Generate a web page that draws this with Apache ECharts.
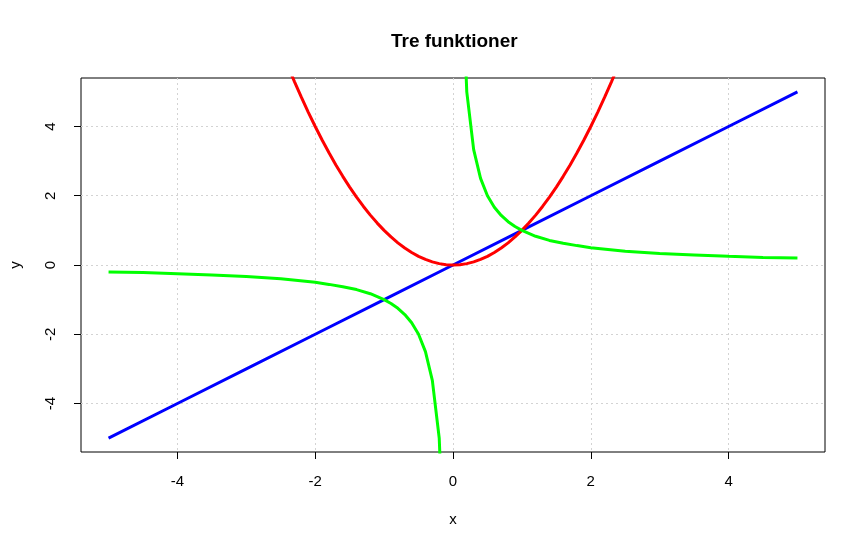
<!DOCTYPE html>
<html>
<head>
<meta charset="utf-8">
<script src="https://cdn.jsdelivr.net/npm/echarts@6/dist/echarts.min.js"></script>
<style>
  html, body { margin: 0; padding: 0; background: #fff; }
  #chart { width: 866px; height: 550px; }
</style>
</head>
<body>
<div id="chart"></div>
<script>
// y = x
const xBlue = [-5, -4, -3, -2, -1, 0, 1, 2, 3, 4, 5]
const yBlue = [-5, -4, -3, -2, -1, 0, 1, 2, 3, 4, 5]

// y = x^2 (visible part)
const xRed = [-2.5, -2.4, -2.3, -2.2, -2.1, -2.0, -1.9, -1.8, -1.7, -1.6, -1.5, -1.4, -1.3, -1.2, -1.1,
  -1.0, -0.9, -0.8, -0.7, -0.6, -0.5, -0.4, -0.3, -0.2, -0.1, 0,
  0.1, 0.2, 0.3, 0.4, 0.5, 0.6, 0.7, 0.8, 0.9, 1.0, 1.1, 1.2, 1.3, 1.4, 1.5, 1.6, 1.7, 1.8, 1.9,
  2.0, 2.1, 2.2, 2.3, 2.4, 2.5]
const yRed = [6.25, 5.76, 5.29, 4.84, 4.41, 4.0, 3.61, 3.24, 2.89, 2.56, 2.25, 1.96, 1.69, 1.44, 1.21,
  1.0, 0.81, 0.64, 0.49, 0.36, 0.25, 0.16, 0.09, 0.04, 0.01, 0,
  0.01, 0.04, 0.09, 0.16, 0.25, 0.36, 0.49, 0.64, 0.81, 1.0, 1.21, 1.44, 1.69, 1.96, 2.25, 2.56, 2.89, 3.24, 3.61,
  4.0, 4.41, 4.84, 5.29, 5.76, 6.25]

// y = 1/x, negative branch
const xGreenNeg = [-5, -4.5, -4, -3.5, -3, -2.5, -2, -1.8, -1.6, -1.4, -1.2, -1, -0.9, -0.8, -0.7, -0.6, -0.5, -0.4, -0.3, -0.2, -0.1]
const yGreenNeg = [-0.2, -0.22, -0.25, -0.29, -0.33, -0.4, -0.5, -0.56, -0.63, -0.71, -0.83, -1, -1.11, -1.25, -1.43, -1.67, -2, -2.5, -3.33, -5, -10]
// y = 1/x, positive branch
const xGreenPos = [0.1, 0.2, 0.3, 0.4, 0.5, 0.6, 0.7, 0.8, 0.9, 1, 1.2, 1.4, 1.6, 1.8, 2, 2.5, 3, 3.5, 4, 4.5, 5]
const yGreenPos = [10, 5, 3.33, 2.5, 2, 1.67, 1.43, 1.25, 1.11, 1, 0.83, 0.71, 0.63, 0.56, 0.5, 0.4, 0.33, 0.29, 0.25, 0.22, 0.2]

const xTicks = [-4, -2, 0, 2, 4]
const yTicks = [-4, -2, 0, 2, 4]

const pairs = (xs, ys) => xs.map((x, i) => [x, ys[i]])

const font = 'Liberation Sans, Arial, sans-serif'
const gridLine = { show: true, lineStyle: { color: '#d3d3d3', type: [2, 3], width: 1 } }

const chart = echarts.init(document.getElementById('chart'), null, { renderer: 'canvas' })

chart.setOption({
  animation: false,
  backgroundColor: '#fff',
  title: {
    text: 'Tre funktioner',
    left: 386,
    top: 27,
    textStyle: { fontFamily: font, fontWeight: 'bold', fontSize: 19, color: '#000' }
  },
  grid: {
    left: 78, right: 41, top: 78, bottom: 98,
    show: true, borderColor: '#000', borderWidth: 1
  },
  xAxis: {
    type: 'value',
    min: -5.4,
    max: 5.4,
    name: 'x',
    nameLocation: 'middle',
    nameGap: 60,
    nameTextStyle: { fontFamily: font, fontSize: 15, color: '#000' },
    axisLine: { show: false, onZero: false },
    axisTick: { show: true, length: 7, customValues: xTicks, lineStyle: { color: '#000' } },
    axisLabel: { customValues: xTicks, margin: 22, fontFamily: font, fontSize: 15, color: '#000' },
    splitLine: gridLine
  },
  yAxis: {
    type: 'value',
    min: -5.4,
    max: 5.4,
    name: 'y',
    nameLocation: 'middle',
    nameGap: 58,
    nameRotate: 90,
    nameTextStyle: { fontFamily: font, fontSize: 15, color: '#000' },
    axisLine: { show: false, onZero: false },
    axisTick: { show: true, length: 7, customValues: yTicks, lineStyle: { color: '#000' } },
    axisLabel: { customValues: yTicks, rotate: 90, margin: 23, fontFamily: font, fontSize: 15, color: '#000' },
    splitLine: gridLine
  },
  series: [
    {
      name: 'x', type: 'line', data: pairs(xBlue, yBlue), showSymbol: false,
      lineStyle: { color: '#0000ff', width: 3 }, clip: true
    },
    {
      name: 'x^2', type: 'line', data: pairs(xRed, yRed), showSymbol: false,
      lineStyle: { color: '#ff0000', width: 3 }, clip: true
    },
    {
      name: '1/x neg', type: 'line', data: pairs(xGreenNeg, yGreenNeg), showSymbol: false,
      lineStyle: { color: '#00ff00', width: 3 }, clip: true
    },
    {
      name: '1/x pos', type: 'line', data: pairs(xGreenPos, yGreenPos), showSymbol: false,
      lineStyle: { color: '#00ff00', width: 3 }, clip: true
    }
  ]
})
</script>
</body>
</html>
